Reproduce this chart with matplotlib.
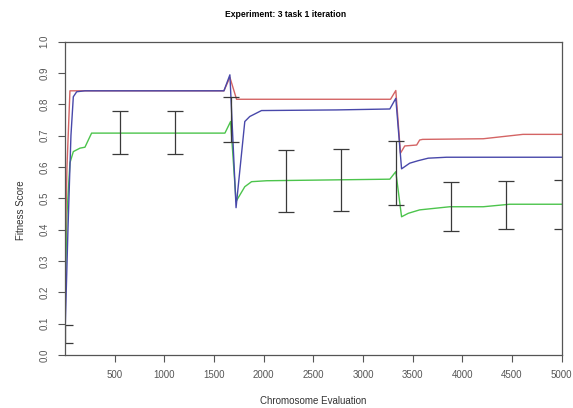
import matplotlib
matplotlib.use("Agg")
import matplotlib.pyplot as plt
import numpy as np

plt.rcParams["font.family"] = ["Liberation Sans", "DejaVu Sans"]

# fitness curves (chromosome evaluation, score)
red_x = [0, 20, 50, 200, 1600, 1660, 1727, 3277, 3330, 3377, 3420, 3540, 3570, 3600, 4210, 4610, 5000]
red_y = [0.30, 0.60, 0.843, 0.843, 0.843, 0.886, 0.816, 0.816, 0.844, 0.644, 0.667, 0.670, 0.686, 0.688, 0.690, 0.704, 0.704]

blue_x = [0, 30, 60, 84, 118, 200, 1600, 1660, 1722, 1810, 1860, 1978, 2733, 3270, 3330, 3388, 3470, 3555, 3656, 3840, 5000]
blue_y = [0.06, 0.40, 0.70, 0.824, 0.840, 0.843, 0.843, 0.894, 0.470, 0.745, 0.761, 0.780, 0.782, 0.785, 0.819, 0.594, 0.612, 0.620, 0.628, 0.631, 0.631]

green_x = [0, 20, 50, 84, 151, 201, 235, 268, 1610, 1667, 1722, 1810, 1878, 2030, 3270, 3330, 3388, 3455, 3570, 3873, 4210, 4477, 5000]
green_y = [0.15, 0.45, 0.613, 0.649, 0.660, 0.663, 0.686, 0.708, 0.708, 0.745, 0.490, 0.537, 0.553, 0.556, 0.561, 0.585, 0.441, 0.452, 0.463, 0.473, 0.473, 0.481, 0.481]

# error bars (low, high) every 5000/9 evaluations
err_x = [0, 556, 1111, 1667, 2222, 2778, 3333, 3889, 4444, 5000]
err_lo = [0.037, 0.641, 0.641, 0.681, 0.457, 0.459, 0.478, 0.397, 0.401, 0.402]
err_hi = [0.097, 0.780, 0.780, 0.822, 0.654, 0.658, 0.684, 0.551, 0.554, 0.559]

x_ticks = [500, 1000, 1500, 2000, 2500, 3000, 3500, 4000, 4500, 5000]
y_ticks = [round(0.1 * i, 1) for i in range(11)]

fig = plt.figure(figsize=(5.73, 4.08), dpi=100)
ax = fig.add_axes([0.1134, 0.130, 0.8669, 0.768])

ax.plot(green_x, green_y, color="#4cc44c", lw=1)
ax.plot(red_x, red_y, color="#d46464", lw=1)
ax.plot(blue_x, blue_y, color="#4848aa", lw=1)

lo = np.array(err_lo)
hi = np.array(err_hi)
mid = (lo + hi) / 2
ax.errorbar(err_x, mid, yerr=[mid - lo, hi - mid], fmt="none", ecolor="#3a3a3a",
            elinewidth=0.9, capsize=6, capthick=0.9)

ax.set_xlim(0, 5000)
ax.set_ylim(0, 1.0)
ax.set_xticks(x_ticks)
ax.set_yticks(y_ticks)
ax.set_yticklabels([f"{v:.1f}" for v in y_ticks], rotation=90, va="center")
ax.tick_params(labelsize=7, colors="#555555", length=5, width=0.8, pad=6)
for s in ax.spines.values():
    s.set_color("#555555")
    s.set_linewidth(0.9)

ax.set_xlabel("Chromosome Evaluation", fontsize=7, color="#333333", labelpad=11)
fig.text(0.037, 0.485, "Fitness Score", rotation=90, fontsize=7, color="#333333",
         ha="center", va="center")
fig.text(0.499, 0.965, "Experiment: 3 task 1 iteration", fontsize=6.2, fontweight="bold",
         ha="center", va="center")

fig.savefig("out.png", dpi=100)
